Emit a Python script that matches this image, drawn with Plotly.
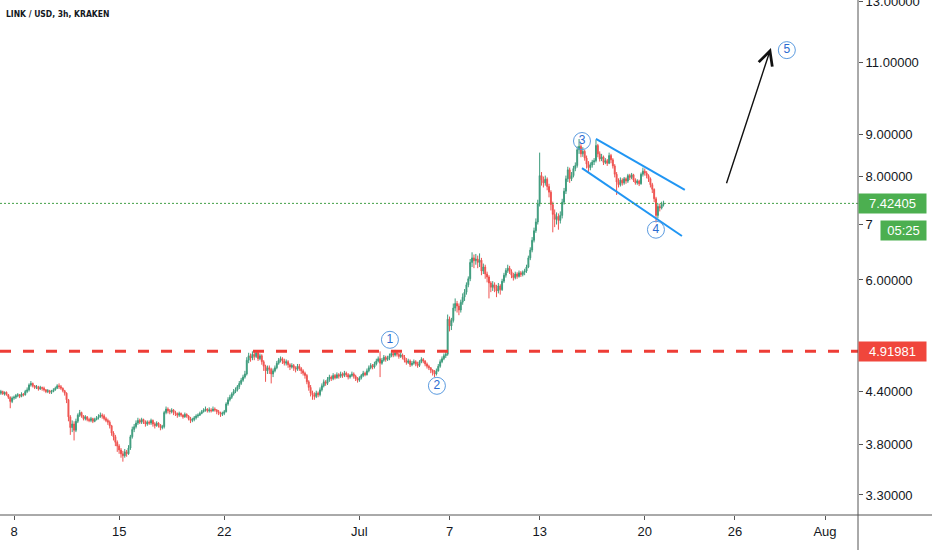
import math
import pandas as pd
import plotly.graph_objects as go

# LINK / USD 3h bars from Kraken (8 bars a day)
start = "2020-06-07 00:00"
first_open = 4.36

closes = [
    4.38, 4.40, 4.37, 4.39, 4.36, 4.33, 4.28, 4.32,  # Jun 7
    4.33, 4.35, 4.36, 4.34, 4.37, 4.36, 4.40, 4.42,
    4.48, 4.50, 4.47, 4.45, 4.46, 4.43, 4.45, 4.44,
    4.42, 4.40, 4.41, 4.39, 4.40, 4.42, 4.44, 4.47,
    4.46, 4.44, 4.41, 4.38, 4.30, 4.10, 3.98, 4.02,
    3.95, 4.05, 4.12, 4.15, 4.11, 4.08, 4.10, 4.07,
    4.06, 4.08, 4.05, 4.07, 4.09, 4.10, 4.12, 4.11,
    4.08, 4.06, 4.04, 4.00, 3.92, 3.88, 3.82, 3.78,
    3.74, 3.70, 3.68, 3.72, 3.70, 3.76, 3.88, 3.96,  # Jun 15
    3.99, 4.03, 4.06, 4.04, 4.07, 4.05, 4.02, 4.04,
    4.03, 4.06, 4.02, 4.00, 4.03, 4.01, 3.98, 3.99,
    4.15, 4.19, 4.17, 4.16, 4.18, 4.15, 4.14, 4.12,
    4.14, 4.12, 4.10, 4.13, 4.11, 4.08, 4.06, 4.07,
    4.09, 4.11, 4.12, 4.14, 4.16, 4.18, 4.19, 4.17,
    4.18, 4.17, 4.19, 4.18, 4.16, 4.15, 4.13, 4.14,
    4.16, 4.25, 4.30, 4.33, 4.37, 4.40, 4.42, 4.46,  # Jun 22
    4.50, 4.54, 4.58, 4.62, 4.80, 4.86, 4.83, 4.88,
    4.85, 4.90, 4.82, 4.86, 4.78, 4.72, 4.66, 4.70,
    4.68, 4.62, 4.66, 4.70, 4.76, 4.80, 4.82, 4.79,
    4.76, 4.78, 4.74, 4.71, 4.73, 4.70, 4.68, 4.72,
    4.69, 4.66, 4.63, 4.60, 4.52, 4.45, 4.38, 4.36,
    4.34, 4.38, 4.36, 4.42, 4.47, 4.52, 4.50, 4.55,
    4.58, 4.56, 4.60, 4.57, 4.61, 4.59, 4.62, 4.60,
    4.63, 4.61, 4.58, 4.60, 4.62, 4.59, 4.56, 4.54,
    4.57, 4.60, 4.63, 4.61, 4.66, 4.70, 4.73, 4.71,  # Jul 1
    4.75, 4.79, 4.82, 4.76, 4.80, 4.84, 4.81, 4.83,
    4.86, 4.89, 4.87, 4.90, 4.88, 4.85, 4.87, 4.84,
    4.80, 4.77, 4.79, 4.74, 4.76, 4.78, 4.75, 4.73,
    4.78, 4.81, 4.79, 4.75, 4.72, 4.70, 4.67, 4.64,
    4.62, 4.66, 4.72, 4.78, 4.82, 4.86, 4.88, 5.38,
    5.28, 5.36, 5.55, 5.62, 5.58, 5.52, 5.64, 5.72,  # Jul 7
    5.80, 5.92, 6.02, 6.30, 6.38, 6.33, 6.36, 6.30,
    6.34, 6.15, 6.22, 6.10, 6.05, 5.95, 5.88, 5.92,
    5.86, 5.82, 5.90, 5.84, 5.98, 6.08, 6.16, 6.20,
    6.14, 6.08, 6.04, 6.10, 6.06, 6.12, 6.09, 6.13,
    6.15, 6.22, 6.38, 6.52, 6.70, 6.88, 7.05, 7.42,
    8.02, 7.92, 7.86, 7.94, 7.78, 7.66, 7.40, 7.20,  # Jul 13
    7.10, 7.16, 7.08, 7.18, 7.45, 7.68, 7.95, 8.15,
    7.95, 8.02, 8.18, 8.25, 8.62, 8.70, 8.52, 8.58,
    8.42, 8.28, 8.20, 8.26, 8.33, 8.36, 8.72, 8.52,
    8.40, 8.45, 8.32, 8.36, 8.30, 8.48, 8.38, 8.24,
    8.05, 7.88, 7.82, 7.92, 7.86, 7.95, 7.90, 8.02,
    7.98, 8.04, 7.92, 7.86, 7.90, 7.84, 8.05, 8.12,
    8.08, 8.02, 7.95, 7.82, 7.72, 7.52, 7.18, 7.36,  # Jul 20
    7.33, 7.40, 7.42405,
]

highs = [
    4.40, 4.42, 4.41, 4.40, 4.40, 4.37, 4.34, 4.34,
    4.35, 4.37, 4.38, 4.37, 4.39, 4.38, 4.42, 4.45,
    4.50, 4.53, 4.51, 4.48, 4.48, 4.47, 4.47, 4.46,
    4.46, 4.43, 4.43, 4.42, 4.42, 4.44, 4.46, 4.49,
    4.50, 4.48, 4.45, 4.42, 4.39, 4.31, 4.12, 4.06,
    4.05, 4.08, 4.14, 4.18, 4.16, 4.12, 4.12, 4.11,
    4.09, 4.10, 4.09, 4.09, 4.11, 4.13, 4.15, 4.14,
    4.13, 4.10, 4.08, 4.06, 4.01, 3.94, 3.90, 3.84,
    3.80, 3.76, 3.73, 3.75, 3.74, 3.79, 3.90, 3.99,
    4.02, 4.06, 4.09, 4.08, 4.09, 4.08, 4.06, 4.06,
    4.06, 4.08, 4.07, 4.04, 4.05, 4.04, 4.02, 4.01,
    4.17, 4.22, 4.21, 4.19, 4.20, 4.19, 4.17, 4.15,
    4.16, 4.15, 4.13, 4.15, 4.14, 4.12, 4.10, 4.09,
    4.11, 4.13, 4.14, 4.16, 4.18, 4.20, 4.22, 4.20,
    4.21, 4.20, 4.22, 4.21, 4.19, 4.18, 4.16, 4.16,
    4.18, 4.27, 4.33, 4.36, 4.39, 4.43, 4.45, 4.48,
    4.53, 4.57, 4.61, 4.66, 4.84, 4.90, 4.89, 4.92,
    4.92, 4.93, 4.92, 4.89, 4.88, 4.80, 4.74, 4.73,
    4.73, 4.70, 4.69, 4.73, 4.79, 4.83, 4.85, 4.84,
    4.82, 4.81, 4.80, 4.76, 4.76, 4.75, 4.72, 4.75,
    4.75, 4.71, 4.68, 4.65, 4.62, 4.54, 4.48, 4.41,
    4.39, 4.41, 4.40, 4.45, 4.50, 4.55, 4.54, 4.58,
    4.61, 4.60, 4.63, 4.62, 4.64, 4.63, 4.65, 4.64,
    4.66, 4.65, 4.63, 4.62, 4.65, 4.64, 4.61, 4.58,
    4.59, 4.62, 4.66, 4.65, 4.69, 4.73, 4.76, 4.75,
    4.78, 4.82, 4.85, 4.92, 4.83, 4.87, 4.86, 4.86,
    4.89, 4.92, 4.91, 4.94, 4.92, 4.90, 4.90, 4.89,
    4.87, 4.83, 4.82, 4.81, 4.79, 4.81, 4.80, 4.78,
    4.80, 4.84, 4.83, 4.80, 4.77, 4.74, 4.71, 4.68,
    4.67, 4.69, 4.75, 4.81, 4.85, 4.89, 4.92, 5.45,
    5.42, 5.40, 5.62, 5.70, 5.66, 5.62, 5.68, 5.78,
    5.85, 5.96, 6.06, 6.36, 6.48, 6.44, 6.45, 6.42,
    6.46, 6.38, 6.28, 6.26, 6.14, 6.08, 5.98, 5.98,
    5.96, 5.92, 5.95, 5.93, 6.02, 6.12, 6.20, 6.26,
    6.24, 6.18, 6.12, 6.14, 6.13, 6.16, 6.15, 6.16,
    6.19, 6.26, 6.42, 6.57, 6.76, 6.94, 7.12, 7.50,
    8.55, 8.10, 8.00, 8.02, 7.98, 7.84, 7.70, 7.46,
    7.30, 7.24, 7.22, 7.26, 7.52, 7.75, 8.02, 8.22,
    8.20, 8.10, 8.24, 8.32, 8.70, 8.88, 8.75, 8.68,
    8.62, 8.48, 8.35, 8.32, 8.38, 8.42, 8.86, 8.76,
    8.58, 8.52, 8.48, 8.42, 8.40, 8.55, 8.52, 8.42,
    8.28, 8.10, 7.96, 7.98, 7.96, 7.99, 7.98, 8.06,
    8.06, 8.08, 8.06, 7.96, 7.94, 7.93, 8.09, 8.20,
    8.18, 8.12, 8.05, 7.98, 7.86, 7.74, 7.56, 7.42,
    7.42, 7.46, 7.48,
]

lows = [
    4.34, 4.36, 4.36, 4.35, 4.35, 4.31, 4.20, 4.26,
    4.30, 4.31, 4.33, 4.32, 4.33, 4.34, 4.35, 4.38,
    4.40, 4.46, 4.45, 4.43, 4.43, 4.41, 4.42, 4.41,
    4.40, 4.38, 4.38, 4.37, 4.37, 4.39, 4.41, 4.43,
    4.43, 4.42, 4.39, 4.35, 4.26, 4.05, 3.90, 3.93,
    3.84, 3.93, 4.03, 4.10, 4.09, 4.06, 4.06, 4.05,
    4.04, 4.04, 4.03, 4.04, 4.06, 4.07, 4.09, 4.08,
    4.06, 4.04, 4.01, 3.97, 3.89, 3.84, 3.78, 3.72,
    3.70, 3.66, 3.62, 3.66, 3.67, 3.69, 3.74, 3.86,
    3.93, 3.97, 4.01, 4.02, 4.02, 4.02, 3.99, 4.00,
    4.01, 4.01, 3.99, 3.97, 3.99, 3.98, 3.95, 3.96,
    3.97, 4.13, 4.14, 4.13, 4.14, 4.12, 4.11, 4.09,
    4.10, 4.10, 4.08, 4.09, 4.09, 4.06, 4.03, 4.04,
    4.05, 4.07, 4.09, 4.11, 4.13, 4.15, 4.16, 4.15,
    4.15, 4.15, 4.16, 4.16, 4.13, 4.12, 4.10, 4.11,
    4.12, 4.15, 4.23, 4.28, 4.31, 4.35, 4.38, 4.40,
    4.43, 4.48, 4.52, 4.56, 4.60, 4.76, 4.78, 4.80,
    4.80, 4.83, 4.79, 4.80, 4.74, 4.66, 4.52, 4.62,
    4.62, 4.50, 4.58, 4.64, 4.68, 4.74, 4.77, 4.75,
    4.73, 4.73, 4.70, 4.67, 4.69, 4.66, 4.64, 4.66,
    4.66, 4.62, 4.60, 4.56, 4.49, 4.41, 4.34, 4.30,
    4.30, 4.32, 4.33, 4.34, 4.40, 4.45, 4.47, 4.48,
    4.52, 4.53, 4.54, 4.55, 4.56, 4.56, 4.57, 4.57,
    4.58, 4.58, 4.55, 4.56, 4.58, 4.56, 4.53, 4.51,
    4.52, 4.55, 4.58, 4.59, 4.60, 4.64, 4.68, 4.68,
    4.69, 4.73, 4.77, 4.58, 4.74, 4.78, 4.78, 4.79,
    4.80, 4.84, 4.84, 4.85, 4.85, 4.82, 4.83, 4.81,
    4.77, 4.74, 4.75, 4.71, 4.72, 4.74, 4.72, 4.70,
    4.71, 4.76, 4.76, 4.72, 4.69, 4.67, 4.63, 4.60,
    4.58, 4.60, 4.65, 4.70, 4.76, 4.80, 4.83, 4.86,
    5.20, 5.22, 5.33, 5.50, 5.48, 5.44, 5.48, 5.60,
    5.66, 5.76, 5.88, 5.98, 6.22, 6.20, 6.26, 6.20,
    6.22, 6.08, 6.10, 6.02, 5.96, 5.70, 5.80, 5.82,
    5.80, 5.72, 5.78, 5.76, 5.82, 5.95, 6.04, 6.12,
    6.10, 6.03, 5.99, 6.01, 6.02, 6.04, 6.05, 6.06,
    6.08, 6.12, 6.20, 6.34, 6.48, 6.66, 6.84, 7.00,
    7.36, 7.80, 7.76, 7.80, 7.70, 7.55, 7.28, 6.85,
    6.95, 7.00, 6.90, 7.02, 7.12, 7.40, 7.62, 7.88,
    7.86, 7.90, 7.98, 8.12, 8.20, 8.52, 8.44, 8.45,
    8.36, 8.18, 8.08, 8.14, 8.20, 8.26, 8.32, 8.44,
    8.34, 8.35, 8.26, 8.28, 8.24, 8.28, 8.30, 8.18,
    7.98, 7.60, 7.76, 7.78, 7.80, 7.82, 7.84, 7.86,
    7.92, 7.94, 7.88, 7.82, 7.82, 7.79, 7.82, 8.00,
    8.02, 7.96, 7.88, 7.76, 7.64, 7.45, 7.04, 7.12,
    7.26, 7.30, 7.36,
]

last_price = 7.42405
resistance = 4.91981
countdown = "05:25"

# elliott wave counts drawn on the chart
wave_labels = ["1", "2", "3", "4", "5"]
wave_times = ["2020-07-03 00:45", "2020-07-06 03:50", "2020-07-15 19:40",
              "2020-07-20 17:50", "2020-07-29 11:00"]
wave_prices = [5.08, 4.47, 8.83, 6.90, 11.37]

# falling channel and the projection arrow
channel_top_t = ["2020-07-16 18:00", "2020-07-22 16:00"]
channel_top_p = [8.88, 7.71]
channel_bot_t = ["2020-07-15 19:40", "2020-07-22 11:20"]
channel_bot_p = [8.19, 6.78]
arrow_t = ["2020-07-25 09:50", "2020-07-28 09:35"]
arrow_p = [7.82, 11.44]

price_ticks = [3.3, 3.8, 4.4, 6, 7, 8, 9, 11, 13]
# the 7.00000 label is mostly hidden under the countdown box, only "7" shows
price_labels = ["3.30000", "3.80000", "4.40000", "6.00000", "7", "8.00000",
                "9.00000", "11.00000", "13.00000"]
date_ticks = ["2020-06-08", "2020-06-15", "2020-06-22", "2020-07-01", "2020-07-07",
              "2020-07-13", "2020-07-20", "2020-07-26", "2020-08-01"]
date_labels = ["8", "15", "22", "Jul", "7", "13", "20", "26", "Aug"]

up_color = '#3e9c7d'
down_color = '#ef5350'
font_name = 'Liberation Sans, Arial, sans-serif'

opens = [first_open] + closes[:-1]
times = pd.date_range(start, periods=len(closes), freq='3h')

fig = go.Figure()

fig.add_trace(
    go.Candlestick(
        x=times, open=opens, high=highs, low=lows, close=closes,
        increasing=dict(line=dict(color=up_color, width=1), fillcolor=up_color),
        decreasing=dict(line=dict(color=down_color, width=1), fillcolor=down_color),
        whiskerwidth=0,
        showlegend=False,
        hoverinfo='skip'
    )
)

# channel lines
for ts, ps in [(channel_top_t, channel_top_p), (channel_bot_t, channel_bot_p)]:
    fig.add_trace(
        go.Scatter(
            x=ts, y=ps, mode='lines',
            line=dict(color='#2196f3', width=2),
            showlegend=False, hoverinfo='skip'
        )
    )

# wave count circles
fig.add_trace(
    go.Scatter(
        x=wave_times, y=wave_prices, mode='markers+text',
        text=wave_labels, textposition='middle center',
        textfont=dict(family=font_name, size=12, color='#2a6bd1'),
        marker=dict(symbol='circle-open', size=17, color='#5b9be0', line=dict(width=1)),
        showlegend=False, hoverinfo='skip'
    )
)

# horizontal levels
fig.add_hline(y=resistance, line=dict(color='#ee3d36', width=3, dash='11px,12px'))
fig.add_hline(y=last_price, line=dict(color='#43a047', width=1, dash='2px,2px'))

# projection arrow
fig.add_annotation(
    x=arrow_t[1], y=math.log10(arrow_p[1]),
    ax=arrow_t[0], ay=math.log10(arrow_p[0]),
    xref='x', yref='y', axref='x', ayref='y',
    text='', showarrow=True,
    arrowhead=5, arrowsize=2, arrowwidth=1.4, arrowcolor='#111111'
)

# axis frame lines reaching the figure edges
fig.add_shape(type='line', xref='paper', yref='paper', x0=1, x1=1, y0=-0.08, y1=1,
              line=dict(color='#555555', width=1))
fig.add_shape(type='line', xref='paper', yref='paper', x0=0, x1=1.09, y0=0, y1=0,
              line=dict(color='#555555', width=1))

# price labels on the scale
fig.add_annotation(
    x=1, xref='paper', xanchor='left', y=math.log10(last_price), yref='y',
    text=f'{last_price:.5f}', showarrow=False,
    font=dict(family=font_name, size=13, color='white'),
    bgcolor='#4caf50', width=63, height=15, borderpad=2
)
fig.add_annotation(
    x=1, xref='paper', xanchor='left', xshift=22, y=math.log10(last_price), yref='y',
    yshift=-27, text=countdown, showarrow=False,
    font=dict(family=font_name, size=13, color='white'),
    bgcolor='#4caf50', width=41, height=15, borderpad=2
)
fig.add_annotation(
    x=1, xref='paper', xanchor='left', y=math.log10(resistance), yref='y',
    text=f'{resistance:.5f}', showarrow=False,
    font=dict(family=font_name, size=13, color='white'),
    bgcolor='#f0463c', width=63, height=15, borderpad=2
)

# symbol title
fig.add_annotation(
    x=0, xref='paper', xanchor='left', xshift=4, y=1, yref='paper', yanchor='top', yshift=-7,
    text='<b>LINK / USD, 3h, KRAKEN</b>', showarrow=False,
    font=dict(family='Liberation Sans Narrow, DejaVu Sans Condensed, sans-serif', size=8.5, color='#131722')
)

fig.update_layout(
    width=932, height=550,
    margin=dict(l=0, r=74, t=0, b=35, pad=0),
    paper_bgcolor='white', plot_bgcolor='white',
    showlegend=False,
    xaxis=dict(
        type='date',
        range=["2020-06-07 01:38", "2020-08-03 04:44"],
        rangeslider=dict(visible=False),
        tickvals=date_ticks, ticktext=date_labels,
        ticks='outside', ticklen=4, tickcolor='#555555',
        tickfont=dict(family=font_name, size=13, color='#131722'),
        showgrid=False, zeroline=False, showline=False, automargin=False
    ),
    yaxis=dict(
        type='log', side='right',
        range=[math.log10(3.121), math.log10(13.07)],
        tickvals=price_ticks, ticktext=price_labels,
        ticks='outside', ticklen=4, tickcolor='#555555',
        tickfont=dict(family=font_name, size=13, color='#131722'),
        ticklabeloverflow='allow',
        showgrid=False, zeroline=False, showline=False, automargin=False
    )
)

# the page body has a default 8px margin; drop it so the chart sits at the corner
fig.write_html("out.html", config={'displayModeBar': False},
               post_script="document.body.style.margin='0';")
